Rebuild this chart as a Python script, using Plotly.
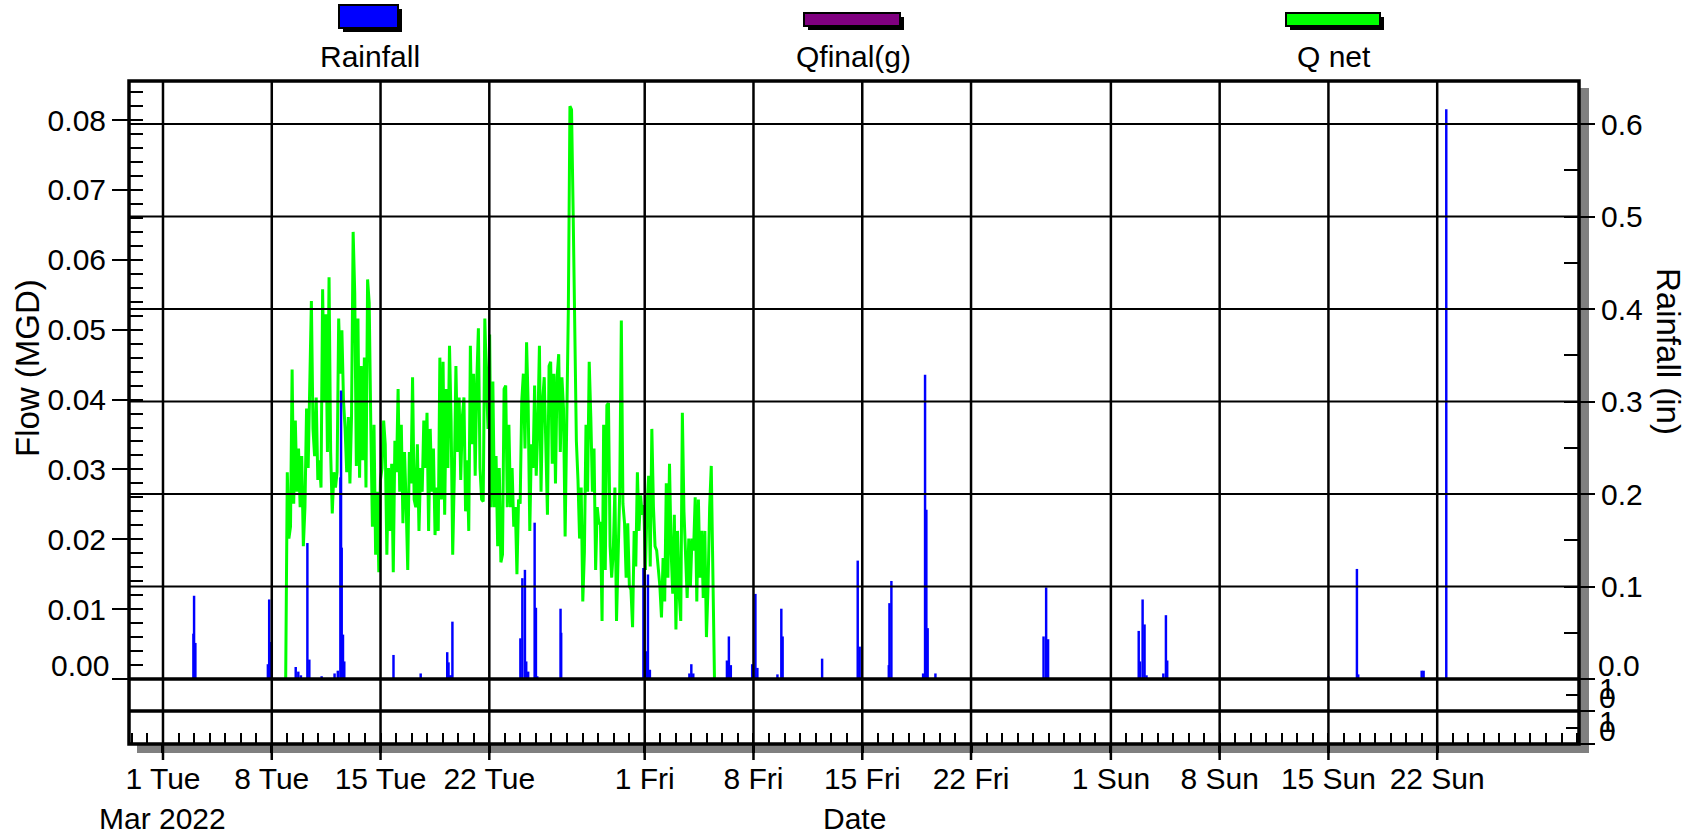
import numpy as np
import pandas as pd
import plotly.graph_objects as go

# ---------------------------------------------------------------- data
# Net flow (MGD), logged at a regular interval between the two timestamps
QNET_START = "2022-03-08 21:30"
QNET_END = "2022-04-05 11:45"
QNET_MGD = [
    0.0, 0.0296, 0.0201, 0.0218, 0.0443, 0.0251, 0.0370, 0.0268, 0.0330, 0.0246,
    0.0319, 0.0190, 0.0246, 0.0387, 0.0302, 0.0420, 0.0541, 0.0358, 0.0319, 0.0403,
    0.0285, 0.0313, 0.0274, 0.0558, 0.0398, 0.0522, 0.0325, 0.0575, 0.0325, 0.0237,
    0.0296, 0.0274, 0.0296, 0.0516, 0.0437, 0.0499, 0.0398, 0.0358, 0.0296, 0.0375,
    0.0280, 0.0375, 0.0640, 0.0552, 0.0305, 0.0516, 0.0288, 0.0448, 0.0313, 0.0460,
    0.0274, 0.0572, 0.0538, 0.0364, 0.0218, 0.0364, 0.0178, 0.0268, 0.0153, 0.0285,
    0.0302, 0.0370, 0.0336, 0.0178, 0.0302, 0.0212, 0.0308, 0.0153, 0.0341, 0.0296,
    0.0415, 0.0268, 0.0364, 0.0223, 0.0325, 0.0251, 0.0156, 0.0325, 0.0280, 0.0432,
    0.0257, 0.0246, 0.0336, 0.0212, 0.0302, 0.0268, 0.0370, 0.0302, 0.0381, 0.0212,
    0.0358, 0.0268, 0.0330, 0.0206, 0.0274, 0.0212, 0.0460, 0.0257, 0.0454, 0.0235,
    0.0415, 0.0302, 0.0477, 0.0370, 0.0178, 0.0291, 0.0448, 0.0325, 0.0403, 0.0285,
    0.0375, 0.0403, 0.0240, 0.0313, 0.0212, 0.0477, 0.0336, 0.0437, 0.0291, 0.0426,
    0.0502, 0.0302, 0.0257, 0.0254, 0.0516, 0.0426, 0.0358, 0.0493, 0.0246,
    0.0426, 0.0246, 0.0319, 0.0190, 0.0302, 0.0167, 0.0178, 0.0415, 0.0420, 0.0246,
    0.0364, 0.0246, 0.0302, 0.0218, 0.0246, 0.0150, 0.0257, 0.0251, 0.0398, 0.0437,
    0.0330, 0.0482, 0.0392, 0.0212, 0.0336, 0.0302, 0.0420, 0.0291, 0.0358, 0.0477,
    0.0268, 0.0398, 0.0432, 0.0308, 0.0235, 0.0448, 0.0454, 0.0308, 0.0437, 0.0280,
    0.0432, 0.0465, 0.0325, 0.0432, 0.0387, 0.0204, 0.0358, 0.0527, 0.0820, 0.0815,
    0.0668, 0.0499, 0.0341, 0.0285, 0.0201, 0.0274, 0.0111, 0.0181, 0.0364, 0.0268,
    0.0454, 0.0375, 0.0268, 0.0330, 0.0156, 0.0246, 0.0223, 0.0223, 0.0083, 0.0364,
    0.0156, 0.0392, 0.0395, 0.0190, 0.0145, 0.0184, 0.0274, 0.0083, 0.0167, 0.0268,
    0.0513, 0.0251, 0.0223, 0.0145, 0.0223, 0.0133, 0.0128, 0.0074, 0.0212, 0.0161,
    0.0296, 0.0212, 0.0263, 0.0235, 0.0249, 0.0156, 0.0246, 0.0291, 0.0161, 0.0358,
    0.0246, 0.0190, 0.0184, 0.0161, 0.0133, 0.0088, 0.0173, 0.0111, 0.0280, 0.0145,
    0.0308, 0.0184, 0.0122, 0.0235, 0.0071, 0.0212, 0.0122, 0.0083, 0.0381, 0.0240,
    0.0161, 0.0116, 0.0201, 0.0133, 0.0201, 0.0184, 0.0260, 0.0111, 0.0257, 0.0145,
    0.0212, 0.0116, 0.0212, 0.0060, 0.0133, 0.0246, 0.0305, 0.0167, 0.0,
]

# Hourly rainfall totals (inches)
RAIN_TIME = [
    "2022-03-02 23:00", "2022-03-03 00:00", "2022-03-03 02:00",
    "2022-03-07 18:00", "2022-03-07 20:00", "2022-03-07 22:00",
    "2022-03-09 13:00", "2022-03-09 17:00", "2022-03-09 21:00",
    "2022-03-10 07:00", "2022-03-10 10:00", "2022-03-11 05:00",
    "2022-03-12 01:00", "2022-03-12 06:00", "2022-03-12 10:00",
    "2022-03-12 11:00", "2022-03-12 12:00", "2022-03-12 14:00",
    "2022-03-12 16:00", "2022-03-15 20:00", "2022-03-17 14:00",
    "2022-03-19 07:00", "2022-03-19 09:00", "2022-03-19 11:00",
    "2022-03-19 14:00", "2022-03-19 15:00",
    "2022-03-24 00:00", "2022-03-24 03:00", "2022-03-24 07:00",
    "2022-03-24 09:00", "2022-03-24 12:00", "2022-03-24 22:00",
    "2022-03-25 00:00", "2022-03-25 02:00", "2022-03-26 14:00",
    "2022-03-26 15:00", "2022-03-31 22:00", "2022-04-01 02:00",
    "2022-04-01 05:00", "2022-04-01 08:00",
    "2022-04-03 21:00", "2022-04-04 00:00", "2022-04-04 03:00",
    "2022-04-06 07:00", "2022-04-06 10:00", "2022-04-06 13:00",
    "2022-04-07 22:00", "2022-04-08 03:00", "2022-04-08 06:00",
    "2022-04-09 13:00", "2022-04-09 19:00", "2022-04-09 21:00",
    "2022-04-12 10:00", "2022-04-14 17:00", "2022-04-14 20:00",
    "2022-04-16 17:00", "2022-04-16 18:00", "2022-04-16 21:00",
    "2022-04-18 22:00", "2022-04-19 01:00", "2022-04-19 03:00",
    "2022-04-19 05:00", "2022-04-19 17:00",
    "2022-04-26 16:00", "2022-04-26 20:00", "2022-04-26 23:00",
    "2022-05-02 19:00", "2022-05-02 21:00", "2022-05-03 01:00",
    "2022-05-03 04:00", "2022-05-03 07:00",
    "2022-05-04 09:00", "2022-05-04 13:00", "2022-05-04 15:00",
    "2022-05-15 00:00", "2022-05-16 20:00", "2022-05-16 22:00",
    "2022-05-21 00:00", "2022-05-21 03:00", "2022-05-22 14:00",
]
RAIN_IN = [
    0.049, 0.090, 0.039,
    0.016, 0.086, 0.040,
    0.013, 0.008, 0.004,
    0.147, 0.021, 0.003,
    0.006, 0.009, 0.218,
    0.312, 0.142, 0.048,
    0.019, 0.026, 0.006,
    0.029, 0.018, 0.004,
    0.004, 0.062,
    0.044, 0.109, 0.118,
    0.019, 0.008, 0.169,
    0.077, 0.003, 0.076,
    0.050, 0.120, 0.030,
    0.113, 0.010,
    0.006, 0.016, 0.006,
    0.020, 0.046, 0.015,
    0.016, 0.092, 0.012,
    0.005, 0.076, 0.046,
    0.022, 0.128, 0.035,
    0.015, 0.082, 0.106,
    0.006, 0.329, 0.183,
    0.055, 0.006,
    0.046, 0.099, 0.043,
    0.052, 0.019, 0.086,
    0.059, 0.004,
    0.006, 0.069, 0.020,
    0.003, 0.119, 0.005,
    0.009, 0.009, 0.616,
]

TICK_DATES = ["2022-03-01", "2022-03-08", "2022-03-15", "2022-03-22",
              "2022-04-01", "2022-04-08", "2022-04-15", "2022-04-22",
              "2022-05-01", "2022-05-08", "2022-05-15", "2022-05-22"]
TICK_TEXT = ["1 Tue", "8 Tue", "15 Tue", "22 Tue",
             "1 Fri", "8 Fri", "15 Fri", "22 Fri",
             "1 Sun", "8 Sun", "15 Sun", "22 Sun"]
MONTH_LABEL = "Mar 2022"

FLOW_TICKS = [0.0, 0.01, 0.02, 0.03, 0.04, 0.05, 0.06, 0.07, 0.08]
FLOW_TEXT = ["", "0.01", "0.02", "0.03", "0.04", "0.05", "0.06", "0.07", "0.08"]
RAIN_TICKS = [0.0, 0.1, 0.2, 0.3, 0.4, 0.5, 0.6]
RAIN_TEXT = ["", "0.1", "0.2", "0.3", "0.4", "0.5", "0.6"]

SERIES = ["Rainfall", "Qfinal(g)", "Q net"]
COLORS = {"Rainfall": "#0000FF", "Qfinal(g)": "#800080", "Q net": "#00FF00"}

# ---------------------------------------------------------------- geometry
W, H = 1690, 834
PL, PR, PT, PB = 129, 1579, 81, 744          # plot area in pixels
MAIN_BOTTOM, STRIP_MID = 679, 711            # panel separators
X_RANGE = ["2022-02-26 19:30", "2022-05-31 03:00"]
FLOW_TOP = 0.0856
RAIN_TOP = 0.6465


def px_x(px):
    return (px - PL) / (PR - PL)


def px_y(py):
    return (PB - py) / (PB - PT)


Y_MAIN0 = px_y(MAIN_BOTTOM)
Y_STRIP0 = px_y(STRIP_MID)
FONT = "Liberation Sans, Arial, sans-serif"
FS = 30

# ---------------------------------------------------------------- traces
qnet_time = pd.date_range(QNET_START, QNET_END, periods=len(QNET_MGD))

fig = go.Figure()
fig.add_trace(go.Scatter(x=qnet_time, y=QNET_MGD, mode="lines", name="Q net",
                         line=dict(color=COLORS["Q net"], width=3),
                         xaxis="x", yaxis="y"))
fig.add_trace(go.Scatter(x=[], y=[], mode="lines", name="Qfinal(g)",
                         line=dict(color=COLORS["Qfinal(g)"], width=3),
                         xaxis="x", yaxis="y"))
fig.add_trace(go.Bar(x=pd.to_datetime(RAIN_TIME), y=RAIN_IN, name="Rainfall",
                     width=3.8 * 3600 * 1000,
                     marker=dict(color=COLORS["Rainfall"], line=dict(width=0)),
                     xaxis="x", yaxis="y2"))
for ax in ("y3", "y4", "y5"):
    fig.add_trace(go.Scatter(x=[], y=[], xaxis="x", yaxis=ax, showlegend=False))

# ---------------------------------------------------------------- axes
tick_common = dict(tickcolor="black", showgrid=False, zeroline=False,
                   showline=False, automargin=False,
                   tickfont=dict(size=FS, color="black"))

fig.update_layout(
    width=W, height=H,
    margin=dict(l=PL, r=W - PR, t=PT, b=H - PB, pad=0, autoexpand=False),
    paper_bgcolor="white", plot_bgcolor="white",
    showlegend=False, barmode="overlay",
    font=dict(family=FONT, size=FS, color="black"),
    xaxis=dict(type="date", range=X_RANGE, anchor="y4",
               tickmode="array", tickvals=TICK_DATES, ticktext=TICK_TEXT,
               ticks="outside", ticklen=8, tickwidth=2.5,
               minor=dict(ticks="inside", ticklen=11, tickwidth=1.5,
                          tickcolor="black", dtick=86400000,
                          tick0="2022-03-01", showgrid=False),
               **tick_common),
    yaxis=dict(domain=[Y_MAIN0, 1], range=[0, FLOW_TOP], anchor="x",
               tickmode="array", tickvals=FLOW_TICKS, ticktext=FLOW_TEXT,
               ticks="outside", ticklen=16, tickwidth=2, **tick_common),
    yaxis5=dict(overlaying="y", side="left", range=[0, FLOW_TOP], anchor="x",
                tickmode="array", tickvals=list(np.round(np.arange(0, 0.0851, 0.002), 3)),
                ticks="inside", ticklen=14, tickwidth=2, showticklabels=False,
                **tick_common),
    yaxis2=dict(overlaying="y", side="right", range=[0, RAIN_TOP], anchor="x",
                tickmode="array", tickvals=RAIN_TICKS, ticktext=RAIN_TEXT,
                ticks="outside", ticklen=15, tickwidth=2,
                minor=dict(ticks="inside", ticklen=15, tickwidth=2,
                           tickcolor="black", dtick=0.05, tick0=0, showgrid=False),
                **tick_common),
    yaxis3=dict(domain=[Y_STRIP0, Y_MAIN0], range=[0, 1], side="right", anchor="x",
                tickmode="array", tickvals=[0], ticktext=[""],
                ticks="outside", ticklen=15, tickwidth=2,
                minor=dict(tickmode="array", tickvals=[0.5], ticks="inside",
                           ticklen=13, tickwidth=2, tickcolor="black"),
                **tick_common),
    yaxis4=dict(domain=[0, Y_STRIP0], range=[0, 1], side="right", anchor="x",
                tickmode="array", tickvals=[0], ticktext=[""],
                ticks="outside", ticklen=15, tickwidth=2,
                minor=dict(tickmode="array", tickvals=[0.5], ticks="inside",
                           ticklen=13, tickwidth=2, tickcolor="black"),
                **tick_common),
)

# ---------------------------------------------------------------- frame, grid, shadow
shapes = []
# drop shadow of the plot frame
shapes.append(dict(type="rect", xref="paper", yref="paper", layer="below",
                   x0=px_x(PR + 1), x1=px_x(PR + 10), y0=px_y(PB + 9), y1=px_y(PT + 7),
                   fillcolor="#808080", line=dict(width=0)))
shapes.append(dict(type="rect", xref="paper", yref="paper", layer="below",
                   x0=px_x(PL + 8), x1=px_x(PR + 10), y0=px_y(PB + 9), y1=px_y(PB + 1),
                   fillcolor="#808080", line=dict(width=0)))
# horizontal grid on the rainfall scale
for v in RAIN_TICKS[1:]:
    shapes.append(dict(type="line", xref="paper", yref="y2", layer="above",
                       x0=0, x1=1, y0=v, y1=v, line=dict(color="black", width=2)))
# vertical grid at the labelled dates, running down past the frame as ticks
for d in TICK_DATES:
    shapes.append(dict(type="line", xref="x", yref="paper", layer="above",
                       x0=d, x1=d, y0=px_y(PB + 16), y1=1,
                       line=dict(color="black", width=2.5)))
# panel separators and outer frame
for yv in (Y_MAIN0, Y_STRIP0):
    shapes.append(dict(type="line", xref="paper", yref="paper", layer="above",
                       x0=0, x1=1, y0=yv, y1=yv, line=dict(color="black", width=3.5)))
shapes.append(dict(type="rect", xref="paper", yref="paper", layer="above",
                   x0=0, x1=1, y0=0, y1=1, line=dict(color="black", width=3.5)))

# legend swatches: (series, left, right, top, bottom) in pixels
swatches = [("Rainfall", 339, 398, 5, 28),
            ("Qfinal(g)", 804, 900, 13, 26),
            ("Q net", 1286, 1380, 13, 26)]
annotations = []
for name, x0, x1, y0, y1 in swatches:
    shapes.append(dict(type="rect", xref="paper", yref="paper", layer="above",
                       x0=px_x(x0 + 4), x1=px_x(x1 + 4), y0=px_y(y1 + 4), y1=px_y(y0 + 4),
                       fillcolor="black", line=dict(width=0)))
    shapes.append(dict(type="rect", xref="paper", yref="paper", layer="above",
                       x0=px_x(x0), x1=px_x(x1), y0=px_y(y1), y1=px_y(y0),
                       fillcolor=COLORS[name], line=dict(color="black", width=2)))
    annotations.append(dict(text=name, xref="paper", yref="paper",
                            x=px_x((x0 + x1) / 2 + 1), y=px_y(57),
                            xanchor="center", yanchor="middle", showarrow=False,
                            font=dict(size=FS)))

# ---------------------------------------------------------------- labels
def label(text, x, y, xanchor="center", angle=0, size=FS):
    annotations.append(dict(text=text, xref="paper", yref="paper",
                            x=px_x(x), y=px_y(y), xanchor=xanchor, yanchor="middle",
                            textangle=angle, showarrow=False, font=dict(size=size)))


label("Flow (MGD)", 27, 368, angle=-90, size=33)
label("Rainfall (in)", 1669, 352, angle=90, size=33)
label("Date", 854, 818)
label("0.00", 111, 665, xanchor="right")
label("0.0", 1596, 665, xanchor="left")
for y1, y0 in ((688, 697), (721, 730)):
    label("1", 1597, y1, xanchor="left")
    label("0", 1597, y0, xanchor="left")
# month/year line under the first date label
annotations.append(dict(text=MONTH_LABEL, xref="x", yref="paper",
                        x=TICK_DATES[0], y=px_y(818), xanchor="center",
                        yanchor="middle", showarrow=False, font=dict(size=FS)))

fig.update_layout(shapes=shapes, annotations=annotations)
fig.write_html("out.html")
